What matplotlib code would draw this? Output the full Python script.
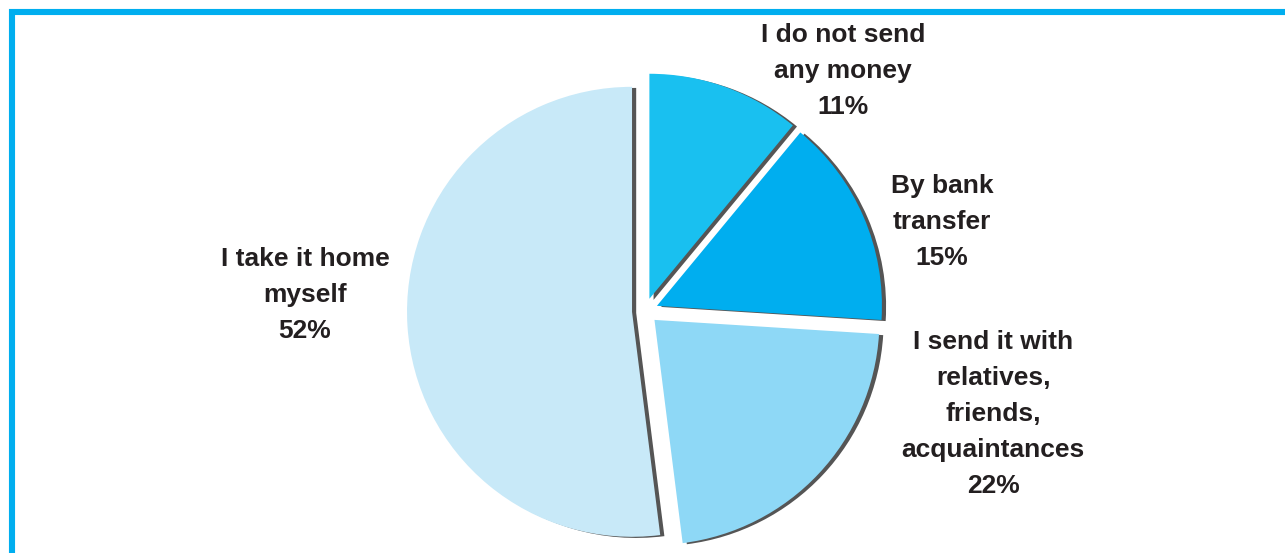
import matplotlib.pyplot as plt
import matplotlib.patheffects as pe

# Share of respondents by way of sending money home
categories = ['I do not send\nany money', 'By bank\ntransfer',
              'I send it with\nrelatives,\nfriends,\nacquaintances', 'I take it home\nmyself']
shares = [11, 15, 22, 52]
colors = ['#19c0f0', '#00aeef', '#8ed8f6', '#c8e9f8']

W, H = 1285, 553
fig = plt.figure(figsize=(W / 100, H / 100), dpi=100)
ax = fig.add_axes([0, 0, 1, 1])

# explode is in data units here (pixels)
wedges, _ = ax.pie(shares, colors=colors, startangle=90, counterclock=False,
                   center=(645, H - 311), radius=225, explode=[13] * 4,
                   wedgeprops=dict(linewidth=0), frame=True)
ax.set_xlim(0, W)
ax.set_ylim(0, H)
ax.set_aspect('equal')
ax.axis('off')

# dark drop shadow on each slice
for w in wedges:
    w.set_path_effects([pe.SimplePatchShadow(offset=(3, -0.8), shadow_rgbFace='#555555', alpha=1.0),
                        pe.Normal()])

# label positions (pixel coords, top-left origin)
label_pos = [(843, 71), (942, 222), (993, 414), (305, 295)]
for cat, val, (x, y) in zip(categories, shares, label_pos):
    ax.text(x, H - y, f'{cat}\n{val}%', ha='center', va='center',
            fontsize=19, fontweight='bold', family='Liberation Sans',
            color='#231f20', linespacing=1.62)

# blue frame along top and left edge
ax.plot([12, 12, W + 5], [-5, H - 12, H - 12], color='#00aeef', lw=4.4,
        solid_joinstyle='miter', clip_on=False)

fig.savefig('out.png', dpi=100)
